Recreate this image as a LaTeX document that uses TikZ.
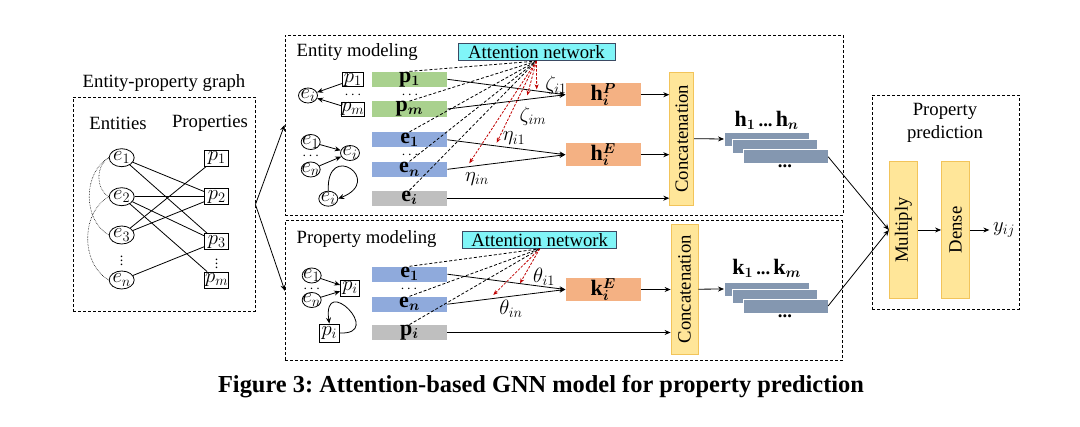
\documentclass[tikz,border=0pt]{standalone}
\usepackage{fontspec}
\setmainfont{Liberation Serif}
\usepackage{bm}
\usetikzlibrary{arrows.meta,shapes.geometric,calc}
\definecolor{barP}{HTML}{A9D18E}
\definecolor{barE}{HTML}{8FAADC}
\definecolor{barS}{HTML}{BFBFBF}
\definecolor{hcol}{HTML}{F4B183}
\definecolor{catfill}{HTML}{FFE699}
\definecolor{catline}{HTML}{F2C45A}
\definecolor{stackcol}{HTML}{8497B0}
\definecolor{attfill}{HTML}{80F5F8}
\definecolor{attline}{HTML}{3B4A63}
\definecolor{attred}{HTML}{C00000}
\DeclareMathSizes{18.7}{22}{15.5}{11}
\frenchspacing
\newcommand{\figfont}{\fontsize{18.7}{22.5}\selectfont}
\newcommand{\dotfont}{\fontsize{14}{14}\selectfont}
\newcommand{\capfont}{\fontsize{24.4}{27}\selectfont\bfseries}
\tikzset{
    panel/.style={draw,dash pattern=on 3pt off 2pt,line width=0.9pt,inner sep=0pt},
    ent/.style={ellipse,draw,inner sep=-0.5pt,minimum width=25pt,minimum height=18pt},
    sent/.style={ellipse,draw,inner sep=-2.5pt,minimum width=19pt,minimum height=15pt},
    prop/.style={draw,inner sep=0pt,minimum width=24pt,minimum height=16pt},
    sprop/.style={draw,inner sep=0pt,minimum width=21pt,minimum height=14pt},
    bar/.style={fill=#1,inner sep=0pt,minimum width=75pt,minimum height=15pt},
    hbar/.style={fill=hcol,inner sep=0pt,minimum width=75pt,minimum height=16pt},
    att/.style={draw=attline,fill=attfill,inner sep=0pt,minimum height=17.4pt},
    cat/.style={draw=catline,fill=catfill,rotate=90,inner sep=0pt},
    stk/.style={fill=stackcol,draw=white,line width=0.6pt,inner sep=0pt,minimum width=85pt,minimum height=14pt},
    dots/.style={font=\dotfont,inner sep=0pt},
    arr/.style={-{Stealth[length=6pt,width=5pt]}},
    attlink/.style={dash pattern=on 3pt off 2pt},
    redarr/.style={-{Stealth[length=5pt,width=4pt]},attred,dash pattern=on 2.5pt off 1.5pt},
}
\tikzstyle{every node}=[font=\figfont]
\begin{document}
\begin{tikzpicture}[x=1pt,y=-1pt,line width=0.8pt]
    \useasboundingbox (0,0) rectangle (1080,427);

    % panels
    \node[panel,minimum width=182pt,minimum height=214pt] (gbox) at (164,204.5) {};
    \node[panel,minimum width=558pt,minimum height=180pt] (panelE) at (564,125) {};
    \node[panel,minimum width=557pt,minimum height=140pt] (panelP) at (563.8,290.8) {};
    \node[panel,minimum width=147pt,minimum height=214pt] (panelR) at (945.5,202) {};

    % entity-property graph
    \node (gtitle) at (164,83) {Entity-property graph};
    \node (entl) at (118,123) {Entities};
    \node (propl) at (210,123) {Properties};
    \node[ent] (e1) at (121.7,157.7) {$e_1$};
    \node[ent] (e2) at (121.7,196.7) {$e_2$};
    \node[ent] (e3) at (121.7,235) {$e_3$};
    \node[ent] (en) at (121.7,280) {$e_n$};
    \node[dots] (edots) at (121.7,258) {$\vdots$};
    \node[prop] (p1) at (216.7,158) {$p_1$};
    \node[prop] (p2) at (216.7,196.7) {$p_2$};
    \node[prop] (p3) at (216.7,241.7) {$p_3$};
    \node[prop] (pm) at (216.7,280) {$p_m$};
    \node[dots] (pdots) at (216.7,261) {$\vdots$};
    \foreach \a/\b in {e1/p2,e1/p3,e2/p2,e2/p3,e2/pm,e3/p1,e3/p2,en/p3}
        \draw (\a) -- (\b);
    \draw[densely dotted,line width=0.6pt] (e1.west) to[bend right=60] (e2.west);
    \draw[densely dotted,line width=0.6pt] (e1.west) to[bend right=60] (e3.west);
    \draw[densely dotted,line width=0.6pt] (e2.west) to[bend right=60] (en.west);
    \draw[arr] (gbox.east) -- (panelE.west);
    \draw[arr] (gbox.east) -- (panelP.west);

    % entity modeling
    \node[anchor=west] (etitle) at (293,51.7) {Entity modeling};
    \node[att,minimum width=157pt] (attE) at (536.4,52) {Attention network};
    \node[sent] (a0) at (308,95.5) {$e_i$};
    \node[sprop] (a1) at (352.8,79.7) {$p_1$};
    \node[sprop] (a2) at (352.8,109.3) {$p_m$};
    \node[dots] (adots) at (353,95) {$\cdots$};
    \draw[arr] (a1) -- (a0);
    \draw[arr] (a2) -- (a0);
    \node[sent] (b1) at (310.7,142) {$e_1$};
    \node[sent] (b2) at (310.7,169.5) {$e_n$};
    \node[dots] (bdots) at (310.7,156) {$\cdots$};
    \node[sent] (b0) at (350,153) {$e_i$};
    \draw[arr] (b1) -- (b0);
    \draw[arr] (b2) -- (b0);
    \node[sent] (c0) at (328.3,198.7) {$e_i$};
    \draw[arr] (c0.north) .. controls (326,140) and (385,180) .. (c0.east);

    \node[bar=barP] (vp1) at (409.5,79.3) {$\mathbf{p}_{\bm{1}}$};
    \node[bar=barP] (vpm) at (409.5,109) {$\mathbf{p}_{\bm{m}}$};
    \node[bar=barE] (ve1) at (409.5,139.8) {$\mathbf{e}_{\bm{1}}$};
    \node[bar=barE] (ven) at (409.5,169.3) {$\mathbf{e}_{\bm{n}}$};
    \node[bar=barS] (vei) at (409.5,198.2) {$\mathbf{e}_{\bm{i}}$};
    \node[dots] (vdots1) at (410,95) {$\cdots$};
    \node[dots] (vdots2) at (410,155) {$\cdots$};
    \node[hbar] (hP) at (603.3,94.7) {$\mathbf{h}_{\bm{i}}^{\bm{P}}$};
    \node[hbar] (hE) at (603.3,154.7) {$\mathbf{h}_{\bm{i}}^{\bm{E}}$};
    \foreach \v in {vp1,vpm,ve1,ven,vei}
        \draw[attlink] (\v.north) -- (attE.south);
    \draw[arr] (vp1.east) -- (hP.west);
    \draw[arr] (vpm.east) -- (hP.west);
    \draw[arr] (ve1.east) -- (hE.west);
    \draw[arr] (ven.east) -- (hE.west);
    \coordinate (z1) at (536.7,89.3);
    \coordinate (z2) at (527.3,95.3);
    \coordinate (z3) at (496.7,142.7);
    \coordinate (z4) at (469.3,163.3);
    \foreach \z in {z1,z2,z3,z4}
        \draw[redarr] (attE.south) -- (\z);
    \node (lz1) at (556,85) {$\zeta_{i1}$};
    \node (lz2) at (533,116) {$\zeta_{im}$};
    \node (lz3) at (514,138.5) {$\eta_{i1}$};
    \node (lz4) at (477,179.3) {$\eta_{in}$};

    \node[cat,minimum width=133pt,minimum height=24pt] (catE) at (681.7,138.7) {Concatenation};
    \draw[arr] (hP.east) -- (hP.east -| catE.north);
    \draw[arr] (hE.east) -- (hE.east -| catE.north);
    \draw[arr] (vei.east) -- (vei.east -| catE.north);
    \node[stk] (hs1) at (766.8,139) {};
    \node[stk] (hs2) at (775,146.3) {};
    \node[stk] (hs3) at (785.3,156.7) {};
    \draw[arr] (catE.south) -- (hs1.west);
    \node (hlab) at (766.7,120) {$\mathbf{h}_{\bm{1}}$\,\textbf{...}\,$\mathbf{h}_{\bm{n}}$};
    \node (hdots) at (785,166) {\textbf{...}};

    % property modeling
    \node[anchor=west] (ptitle) at (293,239) {Property modeling};
    \node[att,minimum width=154pt] (attP) at (539.7,239.7) {Attention network};
    \node[sent] (t1) at (311.7,275.5) {$e_1$};
    \node[sent] (t2) at (311.7,300) {$e_n$};
    \node[dots] (tdots) at (311.7,289) {$\cdots$};
    \node[sprop,minimum width=19pt,minimum height=16pt] (t0) at (350,288.3) {$p_i$};
    \draw[arr] (t1) -- (t0);
    \draw[arr] (t2) -- (t0);
    \node[sprop,minimum width=20pt,minimum height=18pt] (s0) at (329.3,333) {$p_i$};
    \draw[arr] (s0.east) .. controls (385,335) and (322,272) .. (s0.north);

    \node[bar=barE] (ue1) at (409.5,274.2) {$\mathbf{e}_{\bm{1}}$};
    \node[bar=barE] (uen) at (409.5,304.2) {$\mathbf{e}_{\bm{n}}$};
    \node[bar=barS] (upi) at (409.5,332.5) {$\mathbf{p}_{\bm{i}}$};
    \node[dots] (udots) at (409,289.5) {$\cdots$};
    \node[hbar] (kE) at (603.3,289.5) {$\mathbf{k}_{\bm{i}}^{\bm{E}}$};
    \foreach \v in {ue1,uen,upi}
        \draw[attlink] (\v.north) -- (attP.south);
    \draw[arr] (ue1.east) -- (kE.west);
    \draw[arr] (uen.east) -- (kE.west);
    \coordinate (q1) at (520,283.3);
    \coordinate (q2) at (493.3,295);
    \foreach \q in {q1,q2}
        \draw[redarr] (attP.south) -- (\q);
    \node (lq1) at (544,276.7) {$\theta_{i1}$};
    \node (lq2) at (511,309) {$\theta_{in}$};

    \node[cat,minimum width=130pt,minimum height=27pt] (catP) at (684.5,289.2) {Concatenation};
    \draw[arr] (kE.east) -- (kE.east -| catP.north);
    \draw[arr] (upi.east) -- (upi.east -| catP.north);
    \node[stk] (ks1) at (766.8,289) {};
    \node[stk] (ks2) at (775,296.3) {};
    \node[stk] (ks3) at (785.3,306) {};
    \draw[arr] (catP.south) -- (ks1.west);
    \node (klab) at (766.7,268.3) {$\mathbf{k}_{\bm{1}}$\,\textbf{...}\,$\mathbf{k}_{\bm{m}}$};
    \node (kdots) at (785,316) {\textbf{...}};

    % property prediction
    \node[align=center] (rtitle) at (945,123) {Property\\prediction};
    \node[cat,minimum width=137pt,minimum height=28pt] (mult) at (903.3,230) {Multiply};
    \node[cat,minimum width=137pt,minimum height=28pt] (dense) at (955.5,230) {Dense};
    \node (yout) at (1004,230) {$y_{ij}$};
    \draw[arr] (hs3.east) -- (mult.north);
    \draw[arr] (ks3.east) -- (mult.north);
    \draw[arr] (mult.south) -- (dense.north);
    \draw[arr] (dense.south) -- (yout.west);

    \node[font=\capfont] (cap) at (541,387) {Figure 3: Attention-based GNN model for property prediction};
\end{tikzpicture}
\end{document}
